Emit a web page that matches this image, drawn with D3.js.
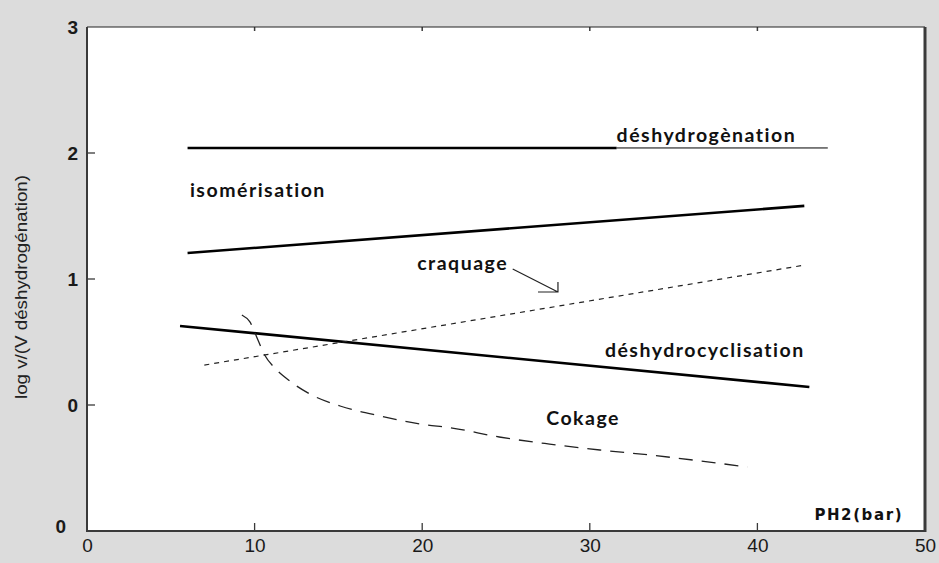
<!DOCTYPE html>
<html>
<head>
<meta charset="utf-8">
<script src="https://cdn.jsdelivr.net/npm/d3@7"></script>
<style>
    html, body { margin: 0; padding: 0; background: #dcdcdc; }
    svg { display: block; }
</style>
</head>
<body>
<svg id="chart"></svg>
<script>
(function () {
    'use strict';

    // ---- data ----
    var xTickValues = [0, 10, 20, 30, 40, 50];
    var yTickValues = [-1, 0, 1, 2, 3];
    var yTickLabels = ['0', '0', '1', '2', '3'];

    var dehydroX = [6.0, 31.6, 44.2];
    var dehydroY = [2.04, 2.04, 2.04];

    var isomX = [6.0, 42.8];
    var isomY = [1.206, 1.58];

    var craquageX = [7.0, 42.8];
    var craquageY = [0.317, 1.11];

    var cyclX = [5.55, 43.1];
    var cyclY = [0.627, 0.143];

    var cokageX = [9.24, 9.72, 10.2, 10.6, 11.2, 12.1, 13.3, 15.1, 17.5, 19.9, 21.8, 24.6, 27.6, 30.6, 33.6, 36.6, 39.4];
    var cokageY = [0.714, 0.659, 0.516, 0.397, 0.294, 0.190, 0.087, -0.008, -0.087, -0.151, -0.183, -0.254, -0.310, -0.357, -0.397, -0.444, -0.492];

    var _config = {
        width: 939,
        height: 563,
        left: 87,
        right: 925,
        top: 27,
        bottom: 531,
        ink: '#000',
        axis: '#3a3a3a'
    };

    var config = _config;
    var svg = d3.select('#chart')
        .attr('width', config.width)
        .attr('height', config.height);

    svg.append('rect')
        .attr('width', config.width)
        .attr('height', config.height)
        .attr('fill', '#dcdcdc');

    var x = d3.scaleLinear().domain([0, 50]).range([config.left, config.right]);
    var y = d3.scaleLinear().domain([-1, 3]).range([config.bottom, config.top]);

    svg.append('rect')
        .attr('x', config.left)
        .attr('y', config.top)
        .attr('width', config.right - config.left)
        .attr('height', config.bottom - config.top)
        .attr('fill', '#fff');

    function zip(xs, ys) {
        return xs.map(function (v, i) { return [v, ys[i]]; });
    }

    var line = d3.line()
        .x(function (d) { return x(d[0]); })
        .y(function (d) { return y(d[1]); });

    var curve = d3.line()
        .curve(d3.curveMonotoneX)
        .x(function (d) { return x(d[0]); })
        .y(function (d) { return y(d[1]); });

    var plot = svg.append('g');

    // déshydrogènation : thick then thin
    var deh = zip(dehydroX, dehydroY);
    plot.append('path')
        .attr('d', line(deh.slice(0, 2)))
        .attr('fill', 'none').attr('stroke', config.ink).attr('stroke-width', 2.4);
    plot.append('path')
        .attr('d', line(deh.slice(1)))
        .attr('fill', 'none').attr('stroke', config.ink).attr('stroke-width', 1);

    plot.append('path')
        .attr('d', line(zip(isomX, isomY)))
        .attr('fill', 'none').attr('stroke', config.ink).attr('stroke-width', 2.6);

    plot.append('path')
        .attr('d', line(zip(cyclX, cyclY)))
        .attr('fill', 'none').attr('stroke', config.ink).attr('stroke-width', 2.6);

    plot.append('path')
        .attr('d', line(zip(craquageX, craquageY)))
        .attr('fill', 'none').attr('stroke', '#222').attr('stroke-width', 1.2)
        .attr('stroke-dasharray', '5,5');

    plot.append('path')
        .attr('d', curve(zip(cokageX, cokageY)))
        .attr('fill', 'none').attr('stroke', '#222').attr('stroke-width', 1.3)
        .attr('stroke-dasharray', '14,9');

    // arrow craquage
    var ax0 = x(25.4), ay0 = y(1.08), ax1 = x(28.1), ay1 = y(0.897);
    plot.append('path')
        .attr('d', 'M' + ax0 + ',' + ay0 + 'L' + ax1 + ',' + ay1 +
            'M' + (ax1 - 20) + ',' + ay1 + 'L' + ax1 + ',' + ay1 + 'L' + ax1 + ',' + (ay1 - 10))
        .attr('fill', 'none').attr('stroke', '#222').attr('stroke-width', 1.2);

    // labels
    var labelFont = 'Lato, "Open Sans", sans-serif';
    var labels = [
        { t: 'déshydrogènation', x: 31.6, y: 2.087 },
        { t: 'isomérisation', x: 6.14, y: 1.65 },
        { t: 'craquage', x: 19.7, y: 1.07 },
        { t: 'déshydrocyclisation', x: 30.9, y: 0.381 },
        { t: 'Cokage', x: 27.4, y: -0.159 }
    ];
    plot.selectAll('text.lbl')
        .data(labels)
        .enter()
        .append('text')
        .attr('class', 'lbl')
        .attr('x', function (d) { return x(d.x); })
        .attr('y', function (d) { return y(d.y); })
        .attr('font-family', labelFont)
        .attr('font-weight', 'bold')
        .attr('font-size', 19.5)
        .attr('letter-spacing', 1.5)
        .attr('fill', '#111')
        .text(function (d) { return d.t; });

    plot.append('text')
        .attr('x', x(43.4))
        .attr('y', y(-0.913))
        .attr('font-family', '"DejaVu Sans", sans-serif')
        .attr('font-weight', 'bold')
        .attr('font-size', 15)
        .attr('letter-spacing', 1.6)
        .attr('fill', '#111')
        .text('PH2(bar)');

    // axes
    var axisG = svg.append('g');
    axisG.append('g')
        .attr('transform', 'translate(0,' + config.bottom + ')')
        .call(d3.axisBottom(x).tickValues(xTickValues).tickSize(0).tickPadding(8))
        .call(function (g) {
            g.select('.domain').remove();
            g.selectAll('text').attr('font-family', '"Liberation Sans", Arial, sans-serif')
                .attr('font-size', 19).attr('fill', '#1a1a1a');
        });

    axisG.append('g')
        .attr('transform', 'translate(' + config.left + ',0)')
        .call(d3.axisLeft(y).tickValues(yTickValues)
            .tickFormat(function (d, i) { return yTickLabels[i]; })
            .tickSize(0).tickPadding(9))
        .call(function (g) {
            g.select('.domain').remove();
            g.selectAll('text').attr('font-family', '"Liberation Sans", Arial, sans-serif')
                .attr('font-size', 19).attr('font-weight', 'bold').attr('fill', '#1a1a1a');
            g.selectAll('.tick').filter(function (d) { return d === -1; })
                .select('text').attr('dx', -12).attr('dy', '0.1em');
        });

    // inner ticks
    axisG.selectAll('line.bt')
        .data(xTickValues.slice(1, 5))
        .enter().append('line')
        .attr('x1', function (d) { return x(d); }).attr('x2', function (d) { return x(d); })
        .attr('y1', config.bottom).attr('y2', config.bottom - 8)
        .attr('stroke', config.axis).attr('stroke-width', 1.3);
    axisG.selectAll('line.tt')
        .data(xTickValues.slice(1, 5))
        .enter().append('line')
        .attr('x1', function (d) { return x(d); }).attr('x2', function (d) { return x(d); })
        .attr('y1', config.top).attr('y2', config.top + 4)
        .attr('stroke', config.axis).attr('stroke-width', 1.5);
    axisG.selectAll('line.lt')
        .data(yTickValues.slice(1, 4))
        .enter().append('line')
        .attr('x1', config.left).attr('x2', config.left + 8)
        .attr('y1', function (d) { return y(d); }).attr('y2', function (d) { return y(d); })
        .attr('stroke', config.axis).attr('stroke-width', 1.3);

    // frame
    axisG.append('line')
        .attr('x1', config.left).attr('x2', config.right)
        .attr('y1', config.top).attr('y2', config.top)
        .attr('stroke', '#222').attr('stroke-width', 1.2);
    axisG.append('line')
        .attr('x1', config.left).attr('x2', config.left)
        .attr('y1', config.top).attr('y2', config.bottom)
        .attr('stroke', config.axis).attr('stroke-width', 2);
    axisG.append('line')
        .attr('x1', config.left - 1).attr('x2', config.right + 1)
        .attr('y1', config.bottom).attr('y2', config.bottom)
        .attr('stroke', config.axis).attr('stroke-width', 2);
    axisG.append('line')
        .attr('x1', config.right).attr('x2', config.right)
        .attr('y1', config.top).attr('y2', config.bottom + 1)
        .attr('stroke', config.axis).attr('stroke-width', 3);

    // y title
    svg.append('text')
        .attr('transform', 'translate(27,287) rotate(-90)')
        .attr('text-anchor', 'middle')
        .attr('font-family', '"Liberation Sans", Arial, sans-serif')
        .attr('font-size', 17)
        .attr('textLength', 224)
        .attr('lengthAdjust', 'spacingAndGlyphs')
        .attr('fill', '#222')
        .text('log v/(V déshydrogénation)');
})();
</script>
</body>
</html>
